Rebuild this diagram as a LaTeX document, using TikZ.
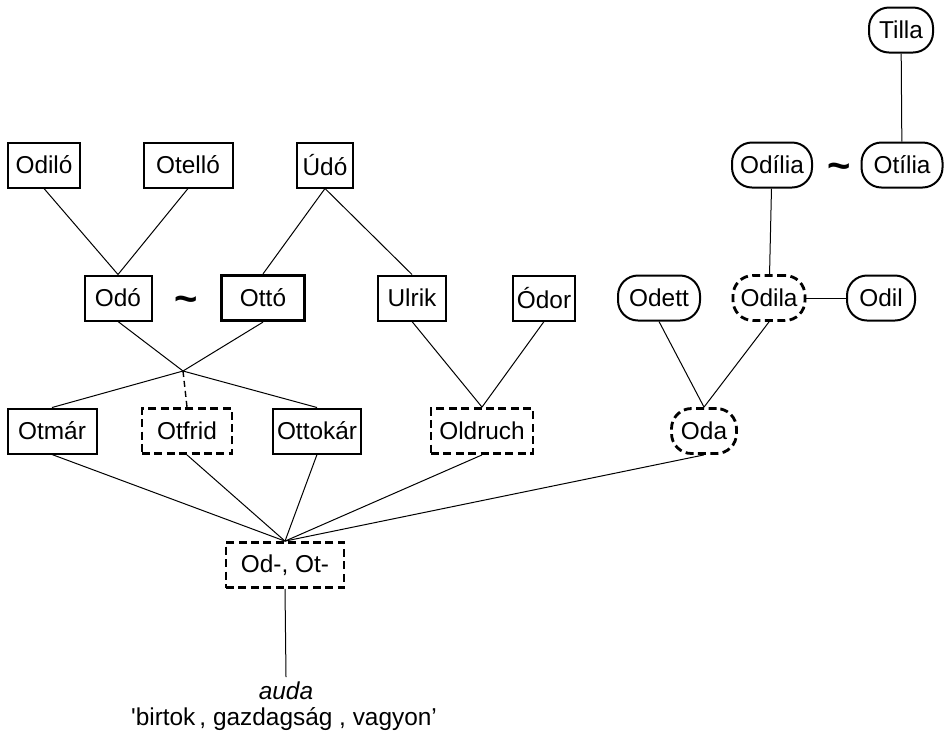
\documentclass[tikz,border=0pt]{standalone}
\usepackage{fontspec}
\setmainfont{Liberation Sans}
\usetikzlibrary{positioning}
\tikzset{
  namebox/.style={draw, line width=1pt, align=center, minimum height=22.5pt,
    inner xsep=2pt, font=\fontsize{12.2}{14}\selectfont},
  guessbox/.style={namebox, dash pattern=on 4pt off 2.2pt, line width=1.4pt},
  roundbox/.style={namebox, rounded corners=10pt},
  guessround/.style={guessbox, rounded corners=10pt},
  link/.style={line width=0.5pt},
  tildemark/.style={font=\fontsize{20}{20}\selectfont\bfseries}
}

\begin{document}
\begin{tikzpicture}[x=0.5pt, y=-0.5pt]
  \useasboundingbox (0,0) rectangle (945,746);
  % top row
  \node[namebox, minimum width=36pt] (odilo) at (44,165) {Odiló};
  \node[namebox, minimum width=44.5pt] (otello) at (188,165) {Otelló};
  \node[namebox, minimum width=28pt] (udo) at (325,165) {Údó};
  \node[roundbox, minimum width=40pt] (odilia) at (772,165) {Odília};
  \node[roundbox, minimum width=40.5pt] (otilia) at (902,165) {Otília};
  \node[roundbox, minimum width=32pt] (tilla) at (901,30) {Tilla};
  \node[tildemark] (tildeb) at (839,171) {\textasciitilde};

  % middle row
  \node[namebox, minimum width=33.5pt] (odo) at (118,298) {Odó};
  \node[namebox, minimum width=41.5pt, line width=1.6pt] (otto) at (263,298) {Ottó};
  \node[tildemark] (tildea) at (186,304) {\textasciitilde};
  \node[namebox, minimum width=34pt] (ulrik) at (412,298) {Ulrik};
  \node[namebox, minimum width=31pt] (odor) at (544,298) {Ódor};
  \node[roundbox, minimum width=41pt] (odett) at (659,298) {Odett};
  \node[guessround, minimum width=36pt] (odila) at (769,298) {Odila};
  \node[roundbox, minimum width=34pt] (odil) at (881,298) {Odil};

  % third row
  \coordinate (jn) at (183,371);
  \node[namebox, minimum width=44.5pt] (otmar) at (52,431) {Otmár};
  \node[guessbox, minimum width=45pt] (otfrid) at (187,431) {Otfrid};
  \node[namebox, minimum width=42.5pt] (ottokar) at (317,431) {Ottokár};
  \node[guessbox, minimum width=51pt] (oldruch) at (482,431) {Oldruch};
  \node[guessround, minimum width=32.5pt] (oda) at (704,431) {Oda};

  % root
  \node[guessbox, minimum width=59pt] (odot) at (285,565) {Od-, Ot-};
  \coordinate (rootend) at (286,677);
  \node[font=\fontsize{12.2}{14}\selectfont\itshape] (auda) at (286,691) {auda};
  \node[font=\fontsize{12.2}{14}\selectfont] (gloss) at (284,719) {\textquotesingle birtok\,, gazdagság , vagyon’};

  \draw[link] (odilo.south) -- (odo.north);
  \draw[link] (otello.south) -- (odo.north);
  \draw[link] (udo.south) -- (otto.north);
  \draw[link] (udo.south) -- (ulrik.north);
  \draw[link] (tilla) -- (otilia);
  \draw[link] (odilia) -- (odila);
  \draw[link] (odila) -- (odil);

  \draw[link] (odo.south) -- (jn);
  \draw[link] (otto.south) -- (jn);
  \draw[link] (jn) -- (otmar.north);
  \draw[link] (jn) -- (ottokar.north);
  \draw[link, dash pattern=on 3pt off 2pt, line width=0.7pt] (jn) -- (otfrid.north);
  \draw[link] (ulrik.south) -- (oldruch.north);
  \draw[link] (odor.south) -- (oldruch.north);
  \draw[link] (odett.south) -- (oda.north);
  \draw[link] (odila.south) -- (oda.north);

  \foreach \n in {otmar,otfrid,ottokar,oldruch,oda}
    \draw[link] (\n.south) -- (odot.north);
  \draw[link] (odot.south) -- (rootend);
\end{tikzpicture}
\end{document}
